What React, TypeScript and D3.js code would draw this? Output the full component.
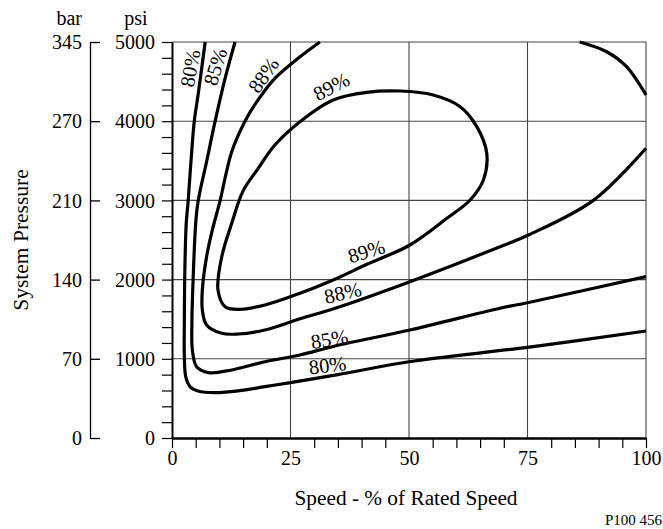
import React, { useEffect, useRef } from 'react'
import * as d3 from 'd3'

// efficiency contours, [speed %, psi]
const eff80: [number, number][] = [
    [7.0, 5000], [5.5, 4330], [4.7, 4000], [4.0, 3490], [3.4, 2985], [3.0, 2710],
    [2.7, 2080], [2.6, 1450], [2.6, 1030], [2.9, 774], [3.8, 648], [5.5, 593],
    [9.1, 572], [14, 595], [19.6, 648], [25, 700], [35, 800], [50, 963],
    [75, 1145], [100, 1351]
]
const eff85: [number, number][] = [
    [13.3, 5000], [11.2, 4540], [9.1, 4000], [7.3, 3490], [5.5, 2985], [5.0, 2710],
    [4.5, 2080], [4.2, 1450], [4.3, 1111], [5.2, 900], [7.7, 825], [12.6, 859],
    [19.6, 963], [27, 1048], [34.4, 1162], [50.2, 1364], [69.2, 1638],
    [75, 1708], [100, 2037]
]
const eff88: [number, number][] = [
    [31.2, 5000], [26.6, 4794], [21.7, 4541], [17.9, 4246], [15.4, 4000],
    [12.6, 3615], [10.1, 2985], [8.4, 2600], [7.3, 2290], [6.4, 1869], [6.4, 1616],
    [7.3, 1427], [10.5, 1322], [14.0, 1313], [19.6, 1364], [27, 1505],
    [34.4, 1638], [50.2, 1974], [69.2, 2415], [75.2, 2563], [88.9, 3000],
    [100, 3658]
]
const eff89: [number, number][] = [
    [9.7, 1870], [10.5, 2290], [12.6, 2710], [15, 3120], [18.2, 3405],
    [21.7, 3699], [27, 3994], [34, 4268], [41.1, 4365], [48.1, 4381],
    [55.1, 4331], [60.8, 4183], [64.3, 3931], [66.4, 3595], [65.7, 3258],
    [62.9, 3005], [58, 2774], [50.2, 2437], [41, 2190], [34, 1995], [27, 1827],
    [19.6, 1679], [14.0, 1625], [11.2, 1658]
]
const eff90: [number, number][] = [
    [86, 5000], [91.7, 4877], [95.9, 4688], [100, 4331]
]

// contour labels: text, speed, psi, angle
const labelText = ['80%', '85%', '88%', '89%', '89%', '88%', '85%', '80%']
const labelSpeed = [3.8, 9.1, 19.3, 33.6, 41.0, 36, 33.2, 32.8]
const labelPsi = [4668, 4688, 4583, 4440, 2360, 1835, 1250, 922]
const labelAngle = [-80, -73, -55, -28, -17, -13, -9, -7]

const psiMajor = [0, 1000, 2000, 3000, 4000, 5000]
const barLabels = ['0', '70', '140', '210', '270', '345']
const speedMajor = [0, 25, 50, 75, 100]

const W = 663
const H = 529
const m = { left: 172, right: 17, top: 42, bottom: 91 }
const font = "'Liberation Serif', 'Times New Roman', Times, serif"

const App: React.FC = () => {
    const ref = useRef<SVGSVGElement>(null)
    useEffect(() => {
        const svg = d3.select(ref.current)
        svg.selectAll('*').remove()
        const x = d3.scaleLinear().domain([0, 100]).range([m.left, W - m.right])
        const y = d3.scaleLinear().domain([0, 5000]).range([H - m.bottom, m.top])
        const [x0, x1] = x.range()
        const [y0, y1] = y.range()

        const g = svg.append('g').attr('fill', '#000')

        // grid
        const grid = g.append('g').attr('stroke', '#444').attr('stroke-width', 1.1)
        grid.selectAll('line.v')
            .data([25, 50, 75, 100])
            .join('line')
            .attr('x1', (d) => x(d))
            .attr('x2', (d) => x(d))
            .attr('y1', y0)
            .attr('y2', y1)
        grid.selectAll('line.h')
            .data([1000, 2000, 3000, 4000, 5000])
            .join('line')
            .attr('x1', x0)
            .attr('x2', x1)
            .attr('y1', (d) => y(d))
            .attr('y2', (d) => y(d))

        // psi axis
        const yAxis = g
            .append('g')
            .attr('transform', `translate(${x0},0)`)
            .call(
                d3
                    .axisLeft(y)
                    .tickValues(d3.range(0, 5001, 200))
                    .tickSize(10)
                    .tickSizeOuter(0)
                    .tickPadding(7)
                    .tickFormat((d) => (+d % 1000 === 0 ? String(d) : ''))
            )
        yAxis.select('.domain').attr('stroke-width', 2)
        yAxis.selectAll('.tick line').attr('stroke-width', 1.2)
        yAxis.selectAll('text').attr('dy', '0.33em')

        // bar axis
        const barAxis = g
            .append('g')
            .attr('transform', 'translate(90,0)')
            .call(
                d3
                    .axisLeft(y)
                    .tickValues(psiMajor)
                    .tickSize(-10)
                    .tickSizeOuter(0)
                    .tickPadding(8)
                    .tickFormat((_d, i) => barLabels[i])
            )
        barAxis.select('.domain').attr('stroke-width', 1.3)
        barAxis.selectAll('.tick line').attr('stroke-width', 1.3)
        barAxis.selectAll('text').attr('dy', '0.33em')

        // speed axis
        const xAxis = g
            .append('g')
            .attr('transform', `translate(0,${y0})`)
            .call(
                d3
                    .axisBottom(x)
                    .tickValues(d3.range(0, 101, 5))
                    .tickSize(10)
                    .tickSizeOuter(0)
                    .tickPadding(3)
                    .tickFormat((d) => (speedMajor.includes(+d) ? String(d) : ''))
            )
        xAxis.select('.domain').attr('stroke-width', 2.5)
        xAxis
            .selectAll('.tick line')
            .attr('stroke-width', 1.2)
            .attr('opacity', (d: any) => (d === 25 || d === 50 || d === 75 ? 0 : 1))

        ;[yAxis, barAxis, xAxis].forEach((a) => a.attr('font-family', null).attr('font-size', null))

        // headers & titles
        g.append('text').attr('x', 82).attr('y', 25).attr('text-anchor', 'end').text('bar')
        g.append('text').attr('x', 136).attr('y', 25).attr('text-anchor', 'middle').text('psi')
        g.append('text')
            .attr('transform', `translate(28,${(y0 + y1) / 2}) rotate(-90)`)
            .attr('text-anchor', 'middle')
            .style('font-size', '21.5px')
            .text('System Pressure')
        g.append('text')
            .attr('x', 406)
            .attr('y', 505)
            .attr('text-anchor', 'middle')
            .style('font-size', '21.3px')
            .text('Speed - % of Rated Speed')
        g.append('text')
            .attr('x', 662)
            .attr('y', 525)
            .attr('text-anchor', 'end')
            .style('font-size', '15px')
            .text('P100 456')

        // contours
        const line = d3
            .line<[number, number]>()
            .curve(d3.curveCatmullRom.alpha(0.5))
            .x((d) => x(d[0]))
            .y((d) => y(d[1]))
        const closed = d3
            .line<[number, number]>()
            .curve(d3.curveCatmullRomClosed.alpha(0.5))
            .x((d) => x(d[0]))
            .y((d) => y(d[1]))
        const curves = g.append('g').attr('fill', 'none').attr('stroke', '#000').attr('stroke-width', 3.2)
        curves.selectAll('path.open')
            .data([eff80, eff85, eff88, eff90])
            .join('path')
            .attr('d', (d) => line(d))
        curves.append('path').attr('d', closed(eff89))

        g.append('g')
            .selectAll('text')
            .data(labelText)
            .join('text')
            .attr('transform', (_d, i) => `translate(${x(labelSpeed[i])},${y(labelPsi[i])}) rotate(${labelAngle[i]})`)
            .attr('text-anchor', 'middle')
            .attr('dy', '0.35em')
            .style('font-size', '20.5px')
            .text((d) => d)
    }, [])
    return (
        <svg
            ref={ref}
            width={W}
            height={H}
            viewBox={`0 0 ${W} ${H}`}
            style={{
                position: 'absolute',
                left: 0,
                top: 0,
                background: '#fff',
                fontFamily: font,
                fontSize: '20px'
            }}
        ></svg>
    )
}

export default App
